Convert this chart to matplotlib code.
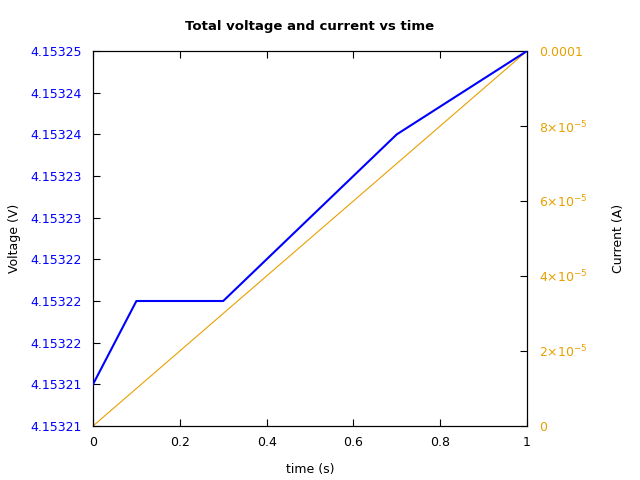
import matplotlib
matplotlib.use("Agg")
import matplotlib.pyplot as plt

time = [0.0, 0.1, 0.3, 0.7, 1.0]
voltage = [4.153210, 4.153220, 4.153220, 4.153240, 4.153250]
current_time = [0.0, 1.0]
current = [0.0, 0.0001]

v_ticks = [4.153205, 4.153210, 4.153215, 4.153220, 4.153225,
           4.153230, 4.153235, 4.153240, 4.153245, 4.153250]
v_labels = ["4.15321", "4.15321", "4.15322", "4.15322", "4.15322",
            "4.15323", "4.15323", "4.15324", "4.15324", "4.15325"]
i_ticks = [0, 2e-5, 4e-5, 6e-5, 8e-5, 1e-4]
i_labels = ["0", r"2×10$^{\mathregular{-5}}$", r"4×10$^{\mathregular{-5}}$",
            r"6×10$^{\mathregular{-5}}$", r"8×10$^{\mathregular{-5}}$", "0.0001"]
x_ticks = [0, 0.2, 0.4, 0.6, 0.8, 1.0]
x_labels = ["0", "0.2", "0.4", "0.6", "0.8", "1"]

blue = "#0000ff"
orange = "#e8a000"

fig = plt.figure(figsize=(6.4, 4.8), dpi=100)
ax = fig.add_axes([93/640, 1-426/480, (527-93)/640, (426-51)/480])
ax.plot(time, voltage, color=blue, lw=1.5, zorder=3)
ax.set_xlim(0, 1)
ax.set_ylim(v_ticks[0], v_ticks[-1])
ax.set_yticks(v_ticks)
ax.set_yticklabels(v_labels, color=blue)
ax.set_xticks(x_ticks)
ax.set_xticklabels(x_labels)
ax.tick_params(axis='both', direction='in', length=5, labelsize=9, pad=8)
ax.tick_params(axis='x', top=True, pad=7.5)
ax.set_xlabel("time (s)", fontsize=9, labelpad=10)
ax.set_ylabel("Voltage (V)", fontsize=9, labelpad=7)
ax.set_title("Total voltage and current vs time", fontsize=9.5, fontweight='bold', pad=15)

ax2 = ax.twinx()
ax2.plot(current_time, current, color=orange, lw=0.8, zorder=2)
ax2.set_ylim(0, 1e-4)
ax2.set_yticks(i_ticks)
ax2.set_yticklabels(i_labels, color=orange)
ax2.tick_params(axis='y', direction='in', length=5, labelsize=9, pad=8.5)
ax2.set_ylabel("Current (A)", fontsize=9, labelpad=17.5)
ax.set_zorder(ax2.get_zorder() + 1)
ax.patch.set_visible(False)

fig.savefig("out.png", dpi=100)
